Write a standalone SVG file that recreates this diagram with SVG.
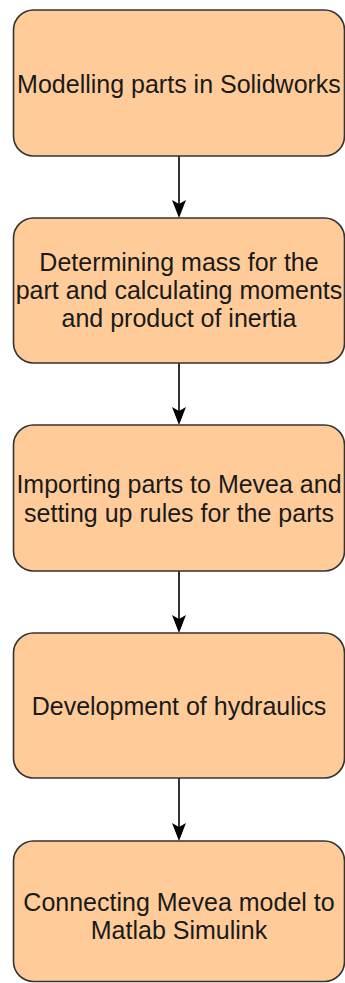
<svg xmlns="http://www.w3.org/2000/svg" width="345" height="983" viewBox="0 0 345 983">
<defs>
<style>
.box{fill:#FFCC99;stroke:#333333;stroke-width:1.6}
.lbl{font-family:"Liberation Sans",Arial,sans-serif;font-size:25px;fill:#1a1a1a;text-anchor:middle}
.edge{stroke:#000000;stroke-width:1.6;fill:none}
</style>
<marker id="arr" markerWidth="14" markerHeight="18" viewBox="0 0 14 18" refX="7" refY="18" orient="auto" markerUnits="userSpaceOnUse">
</marker>
</defs>
<rect width="345" height="983" fill="#ffffff"/>
<g id="connectors">
<line class="edge" x1="179" y1="156" x2="179" y2="206"/>
<path d="M179,218 L172,200 L179,204 L186,200 Z" fill="#000"/>
<line class="edge" x1="179" y1="363" x2="179" y2="413"/>
<path d="M179,425 L172,407 L179,411 L186,407 Z" fill="#000"/>
<line class="edge" x1="179" y1="571" x2="179" y2="621"/>
<path d="M179,633 L172,615 L179,619 L186,615 Z" fill="#000"/>
<line class="edge" x1="179" y1="778" x2="179" y2="829"/>
<path d="M179,841 L172,823 L179,827 L186,823 Z" fill="#000"/>
</g>
<g id="node1">
<rect class="box" x="13.5" y="10" width="331" height="146" rx="20" ry="20"/>
<text class="lbl" x="179" y="92.5">Modelling parts in Solidworks</text>
</g>
<g id="node2">
<rect class="box" x="13.5" y="218" width="331" height="145" rx="20" ry="20"/>
<text class="lbl" x="179" y="270.7">Determining mass for the</text>
<text class="lbl" x="179" y="299">part and calculating moments</text>
<text class="lbl" x="179" y="327.3">and product of inertia</text>
</g>
<g id="node3">
<rect class="box" x="13.5" y="425" width="331" height="146" rx="20" ry="20"/>
<text class="lbl" x="179" y="493">Importing parts to Mevea and</text>
<text class="lbl" x="179" y="521.5">setting up rules for the parts</text>
</g>
<g id="node4">
<rect class="box" x="13.5" y="633" width="331" height="145" rx="20" ry="20"/>
<text class="lbl" x="179" y="714.5">Development of hydraulics</text>
</g>
<g id="node5">
<rect class="box" x="13.5" y="841" width="331" height="140.5" rx="20" ry="20"/>
<text class="lbl" x="179" y="910.5">Connecting Mevea model to</text>
<text class="lbl" x="179" y="938.5">Matlab Simulink</text>
</g>
</svg>
